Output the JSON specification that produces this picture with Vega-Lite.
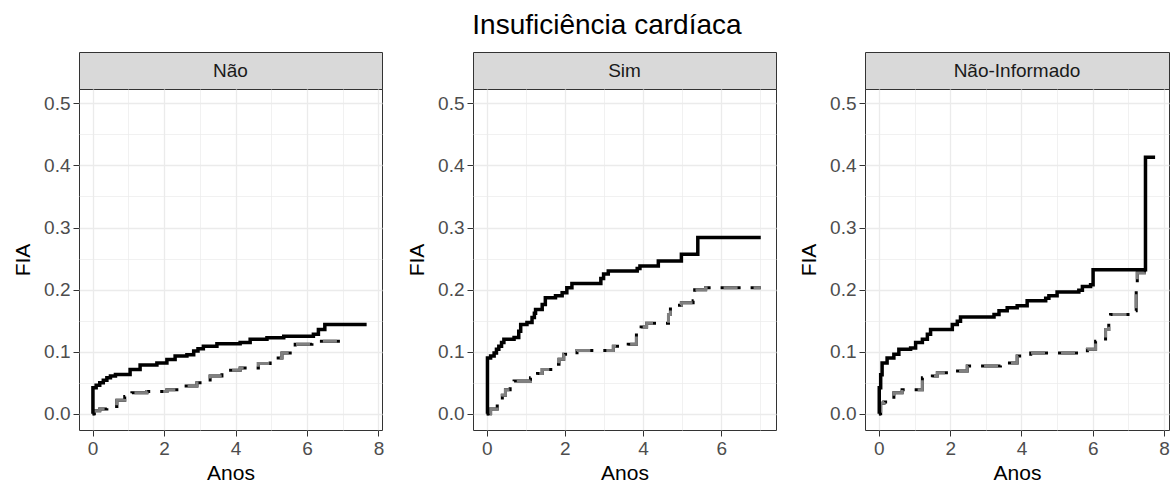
{
  "$schema": "https://vega.github.io/schema/vega-lite/v6.json",
  "padding": {"left": 12, "top": 11, "right": 0, "bottom": 0},
  "background": "white",
  "config": {
    "font": "Liberation Sans",
    "view": {"stroke": "#333333", "strokeWidth": 1},
    "axis": {
      "domain": false,
      "tickColor": "#333333",
      "tickSize": 6,
      "tickWidth": 1,
      "labelColor": "#4D4D4D",
      "labelFontSize": 19,
      "labelFont": "Liberation Sans",
      "labelPadding": 3,
      "titleFont": "Liberation Sans",
      "titleFontSize": 21,
      "titleFontWeight": "normal",
      "titleColor": "#000000",
      "gridColor": "#EBEBEB"
    },
    "axisX": {"titlePadding": 4},
    "axisY": {"titlePadding": 10}
  },
  "title": {"text": "Insuficiência cardíaca", "fontSize": 28, "fontWeight": "normal", "color": "#000000", "anchor": "middle", "frame": "bounds", "dx": 16, "offset": 12, "font": "Liberation Sans"},
  "datasets": {
    "km": [
      {"p": "Não", "s": "a", "t": 0, "v": 0},
      {"p": "Não", "s": "a", "t": 0.01, "v": 0.042},
      {"p": "Não", "s": "a", "t": 0.1, "v": 0.046},
      {"p": "Não", "s": "a", "t": 0.2, "v": 0.05},
      {"p": "Não", "s": "a", "t": 0.3, "v": 0.054},
      {"p": "Não", "s": "a", "t": 0.4, "v": 0.058},
      {"p": "Não", "s": "a", "t": 0.5, "v": 0.061},
      {"p": "Não", "s": "a", "t": 0.64, "v": 0.0635},
      {"p": "Não", "s": "a", "t": 1.05, "v": 0.0716},
      {"p": "Não", "s": "a", "t": 1.33, "v": 0.0785},
      {"p": "Não", "s": "a", "t": 1.8, "v": 0.082},
      {"p": "Não", "s": "a", "t": 2.08, "v": 0.0877},
      {"p": "Não", "s": "a", "t": 2.31, "v": 0.093},
      {"p": "Não", "s": "a", "t": 2.64, "v": 0.095},
      {"p": "Não", "s": "a", "t": 2.83, "v": 0.101},
      {"p": "Não", "s": "a", "t": 2.95, "v": 0.105},
      {"p": "Não", "s": "a", "t": 3.1, "v": 0.109},
      {"p": "Não", "s": "a", "t": 3.48, "v": 0.113},
      {"p": "Não", "s": "a", "t": 4.13, "v": 0.115},
      {"p": "Não", "s": "a", "t": 4.41, "v": 0.12},
      {"p": "Não", "s": "a", "t": 4.88, "v": 0.1226},
      {"p": "Não", "s": "a", "t": 5.35, "v": 0.125},
      {"p": "Não", "s": "a", "t": 6.18, "v": 0.128},
      {"p": "Não", "s": "a", "t": 6.32, "v": 0.136},
      {"p": "Não", "s": "a", "t": 6.5, "v": 0.144},
      {"p": "Não", "s": "a", "t": 7.67, "v": 0.144},
      {"p": "Não", "s": "b", "t": 0, "v": 0},
      {"p": "Não", "s": "b", "t": 0.05, "v": 0.005},
      {"p": "Não", "s": "b", "t": 0.2, "v": 0.008},
      {"p": "Não", "s": "b", "t": 0.4, "v": 0.012},
      {"p": "Não", "s": "b", "t": 0.68, "v": 0.022},
      {"p": "Não", "s": "b", "t": 0.9, "v": 0.028},
      {"p": "Não", "s": "b", "t": 1.1, "v": 0.034},
      {"p": "Não", "s": "b", "t": 1.52, "v": 0.036},
      {"p": "Não", "s": "b", "t": 2.08, "v": 0.039},
      {"p": "Não", "s": "b", "t": 2.49, "v": 0.045},
      {"p": "Não", "s": "b", "t": 2.92, "v": 0.05},
      {"p": "Não", "s": "b", "t": 3.29, "v": 0.061},
      {"p": "Não", "s": "b", "t": 3.62, "v": 0.07},
      {"p": "Não", "s": "b", "t": 4.13, "v": 0.074},
      {"p": "Não", "s": "b", "t": 4.64, "v": 0.081},
      {"p": "Não", "s": "b", "t": 4.97, "v": 0.09},
      {"p": "Não", "s": "b", "t": 5.3, "v": 0.098},
      {"p": "Não", "s": "b", "t": 5.67, "v": 0.112},
      {"p": "Não", "s": "b", "t": 6.14, "v": 0.117},
      {"p": "Não", "s": "b", "t": 7.2, "v": 0.117},
      {"p": "Sim", "s": "a", "t": 0, "v": 0},
      {"p": "Sim", "s": "a", "t": 0.02, "v": 0.09},
      {"p": "Sim", "s": "a", "t": 0.1, "v": 0.093},
      {"p": "Sim", "s": "a", "t": 0.19, "v": 0.098},
      {"p": "Sim", "s": "a", "t": 0.25, "v": 0.104},
      {"p": "Sim", "s": "a", "t": 0.31, "v": 0.109},
      {"p": "Sim", "s": "a", "t": 0.38, "v": 0.115},
      {"p": "Sim", "s": "a", "t": 0.44, "v": 0.12},
      {"p": "Sim", "s": "a", "t": 0.7, "v": 0.123},
      {"p": "Sim", "s": "a", "t": 0.82, "v": 0.133},
      {"p": "Sim", "s": "a", "t": 0.87, "v": 0.144},
      {"p": "Sim", "s": "a", "t": 1.03, "v": 0.147},
      {"p": "Sim", "s": "a", "t": 1.16, "v": 0.155},
      {"p": "Sim", "s": "a", "t": 1.22, "v": 0.162},
      {"p": "Sim", "s": "a", "t": 1.25, "v": 0.168},
      {"p": "Sim", "s": "a", "t": 1.42, "v": 0.176},
      {"p": "Sim", "s": "a", "t": 1.5, "v": 0.187},
      {"p": "Sim", "s": "a", "t": 1.76, "v": 0.19},
      {"p": "Sim", "s": "a", "t": 1.93, "v": 0.195},
      {"p": "Sim", "s": "a", "t": 2.05, "v": 0.203},
      {"p": "Sim", "s": "a", "t": 2.18, "v": 0.21},
      {"p": "Sim", "s": "a", "t": 2.92, "v": 0.218},
      {"p": "Sim", "s": "a", "t": 2.99, "v": 0.225},
      {"p": "Sim", "s": "a", "t": 3.11, "v": 0.23},
      {"p": "Sim", "s": "a", "t": 3.85, "v": 0.234},
      {"p": "Sim", "s": "a", "t": 3.92, "v": 0.238},
      {"p": "Sim", "s": "a", "t": 4.39, "v": 0.246},
      {"p": "Sim", "s": "a", "t": 4.98, "v": 0.257},
      {"p": "Sim", "s": "a", "t": 5.4, "v": 0.284},
      {"p": "Sim", "s": "a", "t": 7.01, "v": 0.284},
      {"p": "Sim", "s": "b", "t": 0, "v": 0},
      {"p": "Sim", "s": "b", "t": 0.1, "v": 0.008},
      {"p": "Sim", "s": "b", "t": 0.27, "v": 0.02},
      {"p": "Sim", "s": "b", "t": 0.4, "v": 0.03},
      {"p": "Sim", "s": "b", "t": 0.48, "v": 0.039},
      {"p": "Sim", "s": "b", "t": 0.6, "v": 0.048},
      {"p": "Sim", "s": "b", "t": 0.7, "v": 0.053},
      {"p": "Sim", "s": "b", "t": 1.12, "v": 0.058},
      {"p": "Sim", "s": "b", "t": 1.3, "v": 0.065},
      {"p": "Sim", "s": "b", "t": 1.42, "v": 0.0715},
      {"p": "Sim", "s": "b", "t": 1.71, "v": 0.08},
      {"p": "Sim", "s": "b", "t": 1.85, "v": 0.088},
      {"p": "Sim", "s": "b", "t": 1.97, "v": 0.096},
      {"p": "Sim", "s": "b", "t": 2.31, "v": 0.102},
      {"p": "Sim", "s": "b", "t": 3.24, "v": 0.109},
      {"p": "Sim", "s": "b", "t": 3.62, "v": 0.112},
      {"p": "Sim", "s": "b", "t": 3.83, "v": 0.131},
      {"p": "Sim", "s": "b", "t": 3.95, "v": 0.14},
      {"p": "Sim", "s": "b", "t": 4.09, "v": 0.146},
      {"p": "Sim", "s": "b", "t": 4.65, "v": 0.16},
      {"p": "Sim", "s": "b", "t": 4.7, "v": 0.175},
      {"p": "Sim", "s": "b", "t": 4.98, "v": 0.179},
      {"p": "Sim", "s": "b", "t": 5.28, "v": 0.182},
      {"p": "Sim", "s": "b", "t": 5.32, "v": 0.2},
      {"p": "Sim", "s": "b", "t": 5.6, "v": 0.203},
      {"p": "Sim", "s": "b", "t": 7.01, "v": 0.203},
      {"p": "Não-Informado", "s": "a", "t": 0, "v": 0},
      {"p": "Não-Informado", "s": "a", "t": 0.01, "v": 0.042},
      {"p": "Não-Informado", "s": "a", "t": 0.05, "v": 0.063},
      {"p": "Não-Informado", "s": "a", "t": 0.09, "v": 0.082},
      {"p": "Não-Informado", "s": "a", "t": 0.23, "v": 0.09},
      {"p": "Não-Informado", "s": "a", "t": 0.42, "v": 0.096},
      {"p": "Não-Informado", "s": "a", "t": 0.56, "v": 0.104},
      {"p": "Não-Informado", "s": "a", "t": 0.89, "v": 0.106},
      {"p": "Não-Informado", "s": "a", "t": 1.03, "v": 0.115},
      {"p": "Não-Informado", "s": "a", "t": 1.22, "v": 0.12},
      {"p": "Não-Informado", "s": "a", "t": 1.36, "v": 0.128},
      {"p": "Não-Informado", "s": "a", "t": 1.45, "v": 0.136},
      {"p": "Não-Informado", "s": "a", "t": 1.96, "v": 0.136},
      {"p": "Não-Informado", "s": "a", "t": 2.06, "v": 0.144},
      {"p": "Não-Informado", "s": "a", "t": 2.2, "v": 0.149},
      {"p": "Não-Informado", "s": "a", "t": 2.29, "v": 0.156},
      {"p": "Não-Informado", "s": "a", "t": 3.23, "v": 0.16},
      {"p": "Não-Informado", "s": "a", "t": 3.37, "v": 0.166},
      {"p": "Não-Informado", "s": "a", "t": 3.6, "v": 0.171},
      {"p": "Não-Informado", "s": "a", "t": 3.88, "v": 0.174},
      {"p": "Não-Informado", "s": "a", "t": 4.16, "v": 0.182},
      {"p": "Não-Informado", "s": "a", "t": 4.68, "v": 0.186},
      {"p": "Não-Informado", "s": "a", "t": 4.77, "v": 0.19},
      {"p": "Não-Informado", "s": "a", "t": 5.0, "v": 0.196},
      {"p": "Não-Informado", "s": "a", "t": 5.61, "v": 0.199},
      {"p": "Não-Informado", "s": "a", "t": 5.71, "v": 0.205},
      {"p": "Não-Informado", "s": "a", "t": 5.94, "v": 0.208},
      {"p": "Não-Informado", "s": "a", "t": 6.01, "v": 0.232},
      {"p": "Não-Informado", "s": "a", "t": 7.48, "v": 0.413},
      {"p": "Não-Informado", "s": "a", "t": 7.75, "v": 0.413},
      {"p": "Não-Informado", "s": "b", "t": 0, "v": 0},
      {"p": "Não-Informado", "s": "b", "t": 0.05, "v": 0.017},
      {"p": "Não-Informado", "s": "b", "t": 0.14, "v": 0.019},
      {"p": "Não-Informado", "s": "b", "t": 0.33, "v": 0.02},
      {"p": "Não-Informado", "s": "b", "t": 0.42, "v": 0.034},
      {"p": "Não-Informado", "s": "b", "t": 0.65, "v": 0.039},
      {"p": "Não-Informado", "s": "b", "t": 1.22, "v": 0.058},
      {"p": "Não-Informado", "s": "b", "t": 1.5, "v": 0.061},
      {"p": "Não-Informado", "s": "b", "t": 1.64, "v": 0.066},
      {"p": "Não-Informado", "s": "b", "t": 2.1, "v": 0.069},
      {"p": "Não-Informado", "s": "b", "t": 2.48, "v": 0.077},
      {"p": "Não-Informado", "s": "b", "t": 3.41, "v": 0.082},
      {"p": "Não-Informado", "s": "b", "t": 3.88, "v": 0.093},
      {"p": "Não-Informado", "s": "b", "t": 4.26, "v": 0.098},
      {"p": "Não-Informado", "s": "b", "t": 5.85, "v": 0.104},
      {"p": "Não-Informado", "s": "b", "t": 6.08, "v": 0.117},
      {"p": "Não-Informado", "s": "b", "t": 6.36, "v": 0.136},
      {"p": "Não-Informado", "s": "b", "t": 6.45, "v": 0.148},
      {"p": "Não-Informado", "s": "b", "t": 6.5, "v": 0.16},
      {"p": "Não-Informado", "s": "b", "t": 7.2, "v": 0.166},
      {"p": "Não-Informado", "s": "b", "t": 7.22, "v": 0.2},
      {"p": "Não-Informado", "s": "b", "t": 7.25, "v": 0.227},
      {"p": "Não-Informado", "s": "b", "t": 7.45, "v": 0.23}
    ]
  },
  "spacing": 21,
  "hconcat": [
    {
      "bounds": "flush",
      "spacing": 0,
      "vconcat": [
        {
          "width": 303, "height": 37,
          "view": {"fill": "#D9D9D9", "stroke": "#333333", "strokeWidth": 1},
          "data": {"values": [{"lab": "Não"}]},
          "mark": {"type": "text", "fontSize": 19, "color": "#1A1A1A", "baseline": "middle", "align": "center", "font": "Liberation Sans"},
          "encoding": {"text": {"field": "lab"}}
        },
        {
          "width": 303, "height": 341,
          "data": {"name": "km"},
          "transform": [{"filter": "datum.p == 'Não'"}],
          "encoding": {
            "x": {"field": "t", "type": "quantitative", "scale": {"domain": [-0.38, 8.1], "nice": false, "zero": false},
              "axis": {"title": "Anos", "values": [0, 1, 2, 3, 4, 5, 6, 7, 8], "labelExpr": "datum.value % 2 == 0 ? datum.label : ''",
                "tickOpacity": {"condition": {"test": "datum.value % 2 == 0", "value": 1}, "value": 0},
                "gridWidth": {"condition": {"test": "datum.value % 2 == 0", "value": 1.3}, "value": 0.7}}},
            "y": {"field": "v", "type": "quantitative", "scale": {"domain": [-0.026, 0.523], "nice": false, "zero": false},
              "axis": {"title": "FIA", "values": [0, 0.05, 0.1, 0.15, 0.2, 0.25, 0.3, 0.35, 0.4, 0.45, 0.5], "labelExpr": "round(datum.value*20) % 2 == 0 ? format(datum.value, '.1f') : ''",
                "tickOpacity": {"condition": {"test": "round(datum.value*20) % 2 == 0", "value": 1}, "value": 0},
                "gridWidth": {"condition": {"test": "round(datum.value*20) % 2 == 0", "value": 1.3}, "value": 0.7}}}
          },
          "layer": [
            {"transform": [{"filter": "datum.s == 'b'"}], "mark": {"type": "line", "interpolate": "step-after", "color": "#000000", "strokeWidth": 3, "strokeDash": [20, 10], "strokeCap": "butt"}},
            {"transform": [{"filter": "datum.s == 'b'"}], "mark": {"type": "line", "interpolate": "step-after", "color": "#808080", "strokeWidth": 3, "strokeDash": [14, 16], "strokeDashOffset": -3, "strokeCap": "butt"}},
            {"transform": [{"filter": "datum.s == 'a'"}], "mark": {"type": "line", "interpolate": "step-after", "color": "#000000", "strokeWidth": 3.5}}
          ]
        }
      ]
    },
    {
      "bounds": "flush",
      "spacing": 0,
      "vconcat": [
        {
          "width": 303, "height": 37,
          "view": {"fill": "#D9D9D9", "stroke": "#333333", "strokeWidth": 1},
          "data": {"values": [{"lab": "Sim"}]},
          "mark": {"type": "text", "fontSize": 19, "color": "#1A1A1A", "baseline": "middle", "align": "center", "font": "Liberation Sans"},
          "encoding": {"text": {"field": "lab"}}
        },
        {
          "width": 303, "height": 341,
          "data": {"name": "km"},
          "transform": [{"filter": "datum.p == 'Sim'"}],
          "encoding": {
            "x": {"field": "t", "type": "quantitative", "scale": {"domain": [-0.35, 7.4], "nice": false, "zero": false},
              "axis": {"title": "Anos", "values": [0, 1, 2, 3, 4, 5, 6, 7], "labelExpr": "datum.value % 2 == 0 ? datum.label : ''",
                "tickOpacity": {"condition": {"test": "datum.value % 2 == 0", "value": 1}, "value": 0},
                "gridWidth": {"condition": {"test": "datum.value % 2 == 0", "value": 1.3}, "value": 0.7}}},
            "y": {"field": "v", "type": "quantitative", "scale": {"domain": [-0.026, 0.523], "nice": false, "zero": false},
              "axis": {"title": "FIA", "values": [0, 0.05, 0.1, 0.15, 0.2, 0.25, 0.3, 0.35, 0.4, 0.45, 0.5], "labelExpr": "round(datum.value*20) % 2 == 0 ? format(datum.value, '.1f') : ''",
                "tickOpacity": {"condition": {"test": "round(datum.value*20) % 2 == 0", "value": 1}, "value": 0},
                "gridWidth": {"condition": {"test": "round(datum.value*20) % 2 == 0", "value": 1.3}, "value": 0.7}}}
          },
          "layer": [
            {"transform": [{"filter": "datum.s == 'b'"}], "mark": {"type": "line", "interpolate": "step-after", "color": "#000000", "strokeWidth": 3, "strokeDash": [20, 10], "strokeCap": "butt"}},
            {"transform": [{"filter": "datum.s == 'b'"}], "mark": {"type": "line", "interpolate": "step-after", "color": "#808080", "strokeWidth": 3, "strokeDash": [14, 16], "strokeDashOffset": -3, "strokeCap": "butt"}},
            {"transform": [{"filter": "datum.s == 'a'"}], "mark": {"type": "line", "interpolate": "step-after", "color": "#000000", "strokeWidth": 3.5}}
          ]
        }
      ]
    },
    {
      "bounds": "flush",
      "spacing": 0,
      "vconcat": [
        {
          "width": 304, "height": 37,
          "view": {"fill": "#D9D9D9", "stroke": "#333333", "strokeWidth": 1},
          "data": {"values": [{"lab": "Não-Informado"}]},
          "mark": {"type": "text", "fontSize": 19, "color": "#1A1A1A", "baseline": "middle", "align": "center", "font": "Liberation Sans"},
          "encoding": {"text": {"field": "lab"}}
        },
        {
          "width": 304, "height": 341,
          "data": {"name": "km"},
          "transform": [{"filter": "datum.p == 'Não-Informado'"}],
          "encoding": {
            "x": {"field": "t", "type": "quantitative", "scale": {"domain": [-0.39, 8.14], "nice": false, "zero": false},
              "axis": {"title": "Anos", "values": [0, 1, 2, 3, 4, 5, 6, 7, 8], "labelExpr": "datum.value % 2 == 0 ? datum.label : ''",
                "tickOpacity": {"condition": {"test": "datum.value % 2 == 0", "value": 1}, "value": 0},
                "gridWidth": {"condition": {"test": "datum.value % 2 == 0", "value": 1.3}, "value": 0.7}}},
            "y": {"field": "v", "type": "quantitative", "scale": {"domain": [-0.026, 0.523], "nice": false, "zero": false},
              "axis": {"title": "FIA", "values": [0, 0.05, 0.1, 0.15, 0.2, 0.25, 0.3, 0.35, 0.4, 0.45, 0.5], "labelExpr": "round(datum.value*20) % 2 == 0 ? format(datum.value, '.1f') : ''",
                "tickOpacity": {"condition": {"test": "round(datum.value*20) % 2 == 0", "value": 1}, "value": 0},
                "gridWidth": {"condition": {"test": "round(datum.value*20) % 2 == 0", "value": 1.3}, "value": 0.7}}}
          },
          "layer": [
            {"transform": [{"filter": "datum.s == 'b'"}], "mark": {"type": "line", "interpolate": "step-after", "color": "#000000", "strokeWidth": 3, "strokeDash": [20, 10], "strokeCap": "butt"}},
            {"transform": [{"filter": "datum.s == 'b'"}], "mark": {"type": "line", "interpolate": "step-after", "color": "#808080", "strokeWidth": 3, "strokeDash": [14, 16], "strokeDashOffset": -3, "strokeCap": "butt"}},
            {"transform": [{"filter": "datum.s == 'a'"}], "mark": {"type": "line", "interpolate": "step-after", "color": "#000000", "strokeWidth": 3.5}}
          ]
        }
      ]
    }
  ]
}
